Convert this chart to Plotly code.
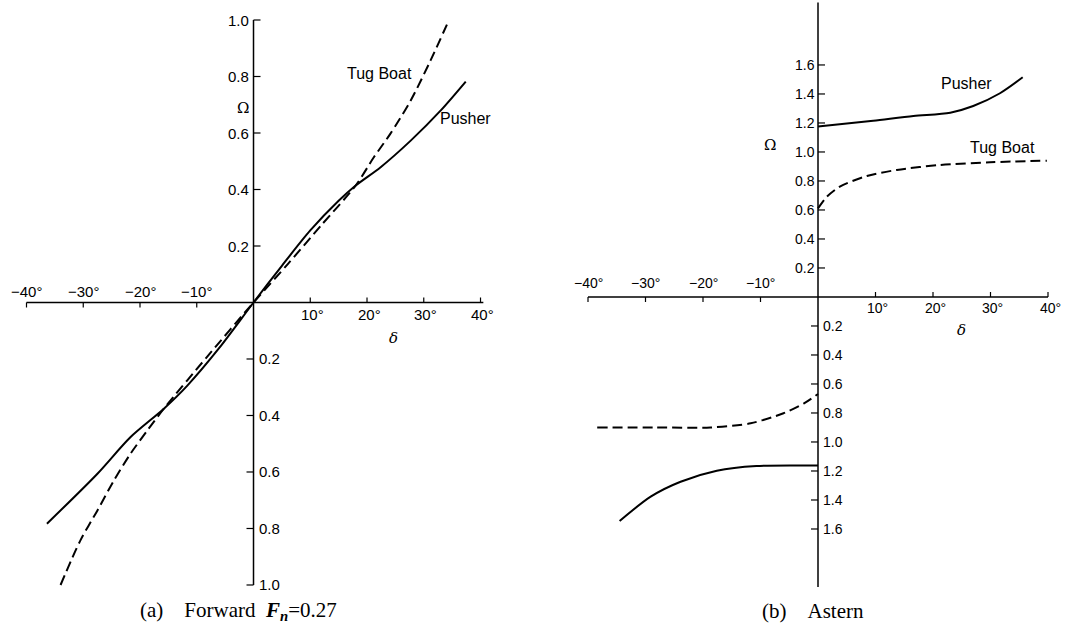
import plotly.graph_objects as go

# ---------------- data ----------------
# Panel (a) Forward, Fn = 0.27
a_pusher_delta = [-36.4, -27.5, -21.7, -15.8, -11.7, -6.0, 0, 5, 10, 15, 18, 22.4, 27.7, 33, 37.4]
a_pusher_omega = [-0.783, -0.606, -0.477, -0.376, -0.295, -0.16, 0, 0.13, 0.255, 0.36, 0.414, 0.479, 0.573, 0.68, 0.782]
a_tug_delta = [-34.0, -30.5, -27.5, -24.6, -21.7, -18.7, -15.8, -8, 0, 6, 12, 18, 21.2, 24.1, 27.7, 31.2, 34.4]
a_tug_omega = [-1.0, -0.842, -0.736, -0.63, -0.536, -0.453, -0.376, -0.188, 0, 0.135, 0.275, 0.414, 0.514, 0.597, 0.715, 0.857, 0.998]

# Panel (b) Astern
b_pusher_up_delta = [0, 9.6, 16.6, 23, 27, 31.65, 35.6]
b_pusher_up_omega = [1.175, 1.216, 1.248, 1.271, 1.317, 1.405, 1.515]
b_tug_up_delta = [0, 1.5, 3.8, 8.5, 13.7, 21.2, 29.9, 39.8]
b_tug_up_omega = [0.611, 0.69, 0.761, 0.834, 0.876, 0.91, 0.929, 0.94]
b_tug_low_delta = [-38.4, -28, -18.7, -11.7, -6, -2.5, 0]
b_tug_low_omega = [-0.90, -0.90, -0.90, -0.871, -0.802, -0.735, -0.669]
b_pusher_low_delta = [-34.5, -29.1, -23.9, -17.6, -10.7, 0]
b_pusher_low_omega = [-1.545, -1.377, -1.274, -1.198, -1.166, -1.163]

# tick values / labels
x_ticks = [-40, -30, -20, -10, 10, 20, 30, 40]
x_tick_labels = ["−40°", "−30°", "−20°", "−10°", "10°", "20°", "30°", "40°"]
a_y_ticks = [1.0, 0.8, 0.6, 0.4, 0.2, -0.2, -0.4, -0.6, -0.8, -1.0]
a_y_labels = ["1.0", "0.8", "0.6", "0.4", "0.2", "0.2", "0.4", "0.6", "0.8", "1.0"]
b_y_ticks = [1.6, 1.4, 1.2, 1.0, 0.8, 0.6, 0.4, 0.2, -0.2, -0.4, -0.6, -0.8, -1.0, -1.2, -1.4, -1.6]
b_y_labels = ["1.6", "1.4", "1.2", "1.0", "0.8", "0.6", "0.4", "0.2",
              "0.2", "0.4", "0.6", "0.8", "1.0", "1.2", "1.4", "1.6"]

# ---------------- figure ----------------
fig = go.Figure()
solid = dict(color="black", width=2, shape="spline", smoothing=0.8)
dashed = dict(color="black", width=2, dash="10px,5px", shape="spline", smoothing=0.8)

fig.add_trace(go.Scatter(x=a_pusher_delta, y=a_pusher_omega, mode="lines", line=solid,
                         xaxis="x", yaxis="y", name="Pusher"))
fig.add_trace(go.Scatter(x=a_tug_delta, y=a_tug_omega, mode="lines", line=dashed,
                         xaxis="x", yaxis="y", name="Tug Boat"))
fig.add_trace(go.Scatter(x=b_pusher_up_delta, y=b_pusher_up_omega, mode="lines", line=solid,
                         xaxis="x2", yaxis="y2", name="Pusher"))
fig.add_trace(go.Scatter(x=b_tug_up_delta, y=b_tug_up_omega, mode="lines", line=dashed,
                         xaxis="x2", yaxis="y2", name="Tug Boat"))
fig.add_trace(go.Scatter(x=b_tug_low_delta, y=b_tug_low_omega, mode="lines", line=dashed,
                         xaxis="x2", yaxis="y2", name="Tug Boat"))
fig.add_trace(go.Scatter(x=b_pusher_low_delta, y=b_pusher_low_omega, mode="lines", line=solid,
                         xaxis="x2", yaxis="y2", name="Pusher"))

shapes = []
annotations = []
tick_font = "Liberation Sans, Arial, sans-serif"
AX = dict(color="black", width=1.5)
TK = dict(color="black", width=1.2)


def build_panel(xr, yr, xmin, xmax, ymin, ymax, yticks, ylabels, fs, xlab_up, xlab_dn, ylab_l, ylab_r):
    # axis lines
    shapes.append(dict(type="line", xref=xr, yref=yr, x0=xmin, x1=xmax, y0=0, y1=0, line=AX))
    shapes.append(dict(type="line", xref=xr, yref=yr, x0=0, x1=0, y0=ymin, y1=ymax, line=AX))
    # x ticks
    for v, t in zip(x_ticks, x_tick_labels):
        if v < 0:
            shapes.append(dict(type="line", xref=xr, yref=yr, x0=v, x1=v, ysizemode="pixel",
                               yanchor=0, y0=0, y1=-5, line=TK))
            annotations.append(dict(x=v, y=0, xref=xr, yref=yr, text=t, showarrow=False,
                                    yshift=xlab_up, font=dict(size=fs, family=tick_font, color="black")))
        else:
            shapes.append(dict(type="line", xref=xr, yref=yr, x0=v, x1=v, ysizemode="pixel",
                               yanchor=0, y0=0, y1=5, line=TK))
            annotations.append(dict(x=v, y=0, xref=xr, yref=yr, text=t, showarrow=False,
                                    yshift=xlab_dn, xshift=2,
                                    font=dict(size=fs, family=tick_font, color="black")))
    # y ticks
    for v, t in zip(yticks, ylabels):
        if v > 0:
            shapes.append(dict(type="line", xref=xr, yref=yr, y0=v, y1=v, xsizemode="pixel",
                               xanchor=0, x0=0, x1=7, line=TK))
            annotations.append(dict(x=0, y=v, xref=xr, yref=yr, text=t, showarrow=False,
                                    xanchor="right", xshift=ylab_l,
                                    font=dict(size=fs, family=tick_font, color="black")))
        else:
            shapes.append(dict(type="line", xref=xr, yref=yr, y0=v, y1=v, xsizemode="pixel",
                               xanchor=0, x0=0, x1=-7, line=TK))
            annotations.append(dict(x=0, y=v, xref=xr, yref=yr, text=t, showarrow=False,
                                    xanchor="left", xshift=ylab_r,
                                    font=dict(size=fs, family=tick_font, color="black")))


build_panel("x", "y", -40, 40.5, -1.0, 1.0, a_y_ticks, a_y_labels, 15, 11, -12, -3, 3)
build_panel("x2", "y2", -40, 40, -2.0, 2.03, b_y_ticks, b_y_labels, 14, 14, -11, -1, 3)

lab_font = dict(size=16, family=tick_font, color="black")
sym_font = dict(size=15, family="DejaVu Serif, serif", color="black")
cap_font = dict(size=21, family="Liberation Serif, Times New Roman, serif", color="black")
annotations += [
    dict(x=22.2, y=0.81, xref="x", yref="y", text="Tug Boat", showarrow=False, font=lab_font),
    dict(x=37.4, y=0.65, xref="x", yref="y", text="Pusher", showarrow=False, font=lab_font),
    dict(x=0, y=0.69, xref="x", yref="y", text="Ω", showarrow=False, xshift=-11, font=sym_font),
    dict(x=24.7, y=-0.124, xref="x", yref="y", text="<i>δ</i>", showarrow=False, font=sym_font),
    dict(x=25.9, y=1.469, xref="x2", yref="y2", text="Pusher", showarrow=False, font=lab_font),
    dict(x=32.0, y=1.034, xref="x2", yref="y2", text="Tug Boat", showarrow=False, font=lab_font),
    dict(x=0, y=1.05, xref="x2", yref="y2", text="Ω", showarrow=False, xshift=-48, font=sym_font),
    dict(x=24.9, y=-0.228, xref="x2", yref="y2", text="<i>δ</i>", showarrow=False, font=sym_font),
    dict(x=238 / 1071, y=1 - 611 / 629, xref="paper", yref="paper", showarrow=False,
         xanchor="center", yanchor="middle",
         text="(a)&nbsp;&nbsp;&nbsp;&nbsp;Forward&nbsp;&nbsp;<b><i>F<sub>n</sub></i></b>=0.27",
         font=cap_font),
    dict(x=813 / 1071, y=1 - 611 / 629, xref="paper", yref="paper", showarrow=False,
         xanchor="center", yanchor="middle",
         text="(b)&nbsp;&nbsp;&nbsp;&nbsp;Astern",
         font=cap_font),
]

hidden = dict(visible=False, showgrid=False, zeroline=False, fixedrange=True)
fig.update_layout(
    width=1071, height=629,
    margin=dict(l=0, r=0, t=0, b=0),
    paper_bgcolor="white", plot_bgcolor="white",
    showlegend=False,
    hovermode=False,
    xaxis=dict(domain=[0, 0.5], range=[-44.67, 49.69], **hidden),
    yaxis=dict(domain=[0, 1], range=[-1.1558, 1.0708], **hidden),
    xaxis2=dict(domain=[0.5, 1], range=[-49.13, 44.0], **hidden),
    yaxis2=dict(domain=[0, 1], range=[-2.2897, 2.048], anchor="x2", **hidden),
    shapes=shapes,
    annotations=annotations,
)

fig.write_html("out.html", config={"displayModeBar": False, "staticPlot": True},
               post_script="document.body.style.margin='0px';document.body.style.overflow='hidden';")
